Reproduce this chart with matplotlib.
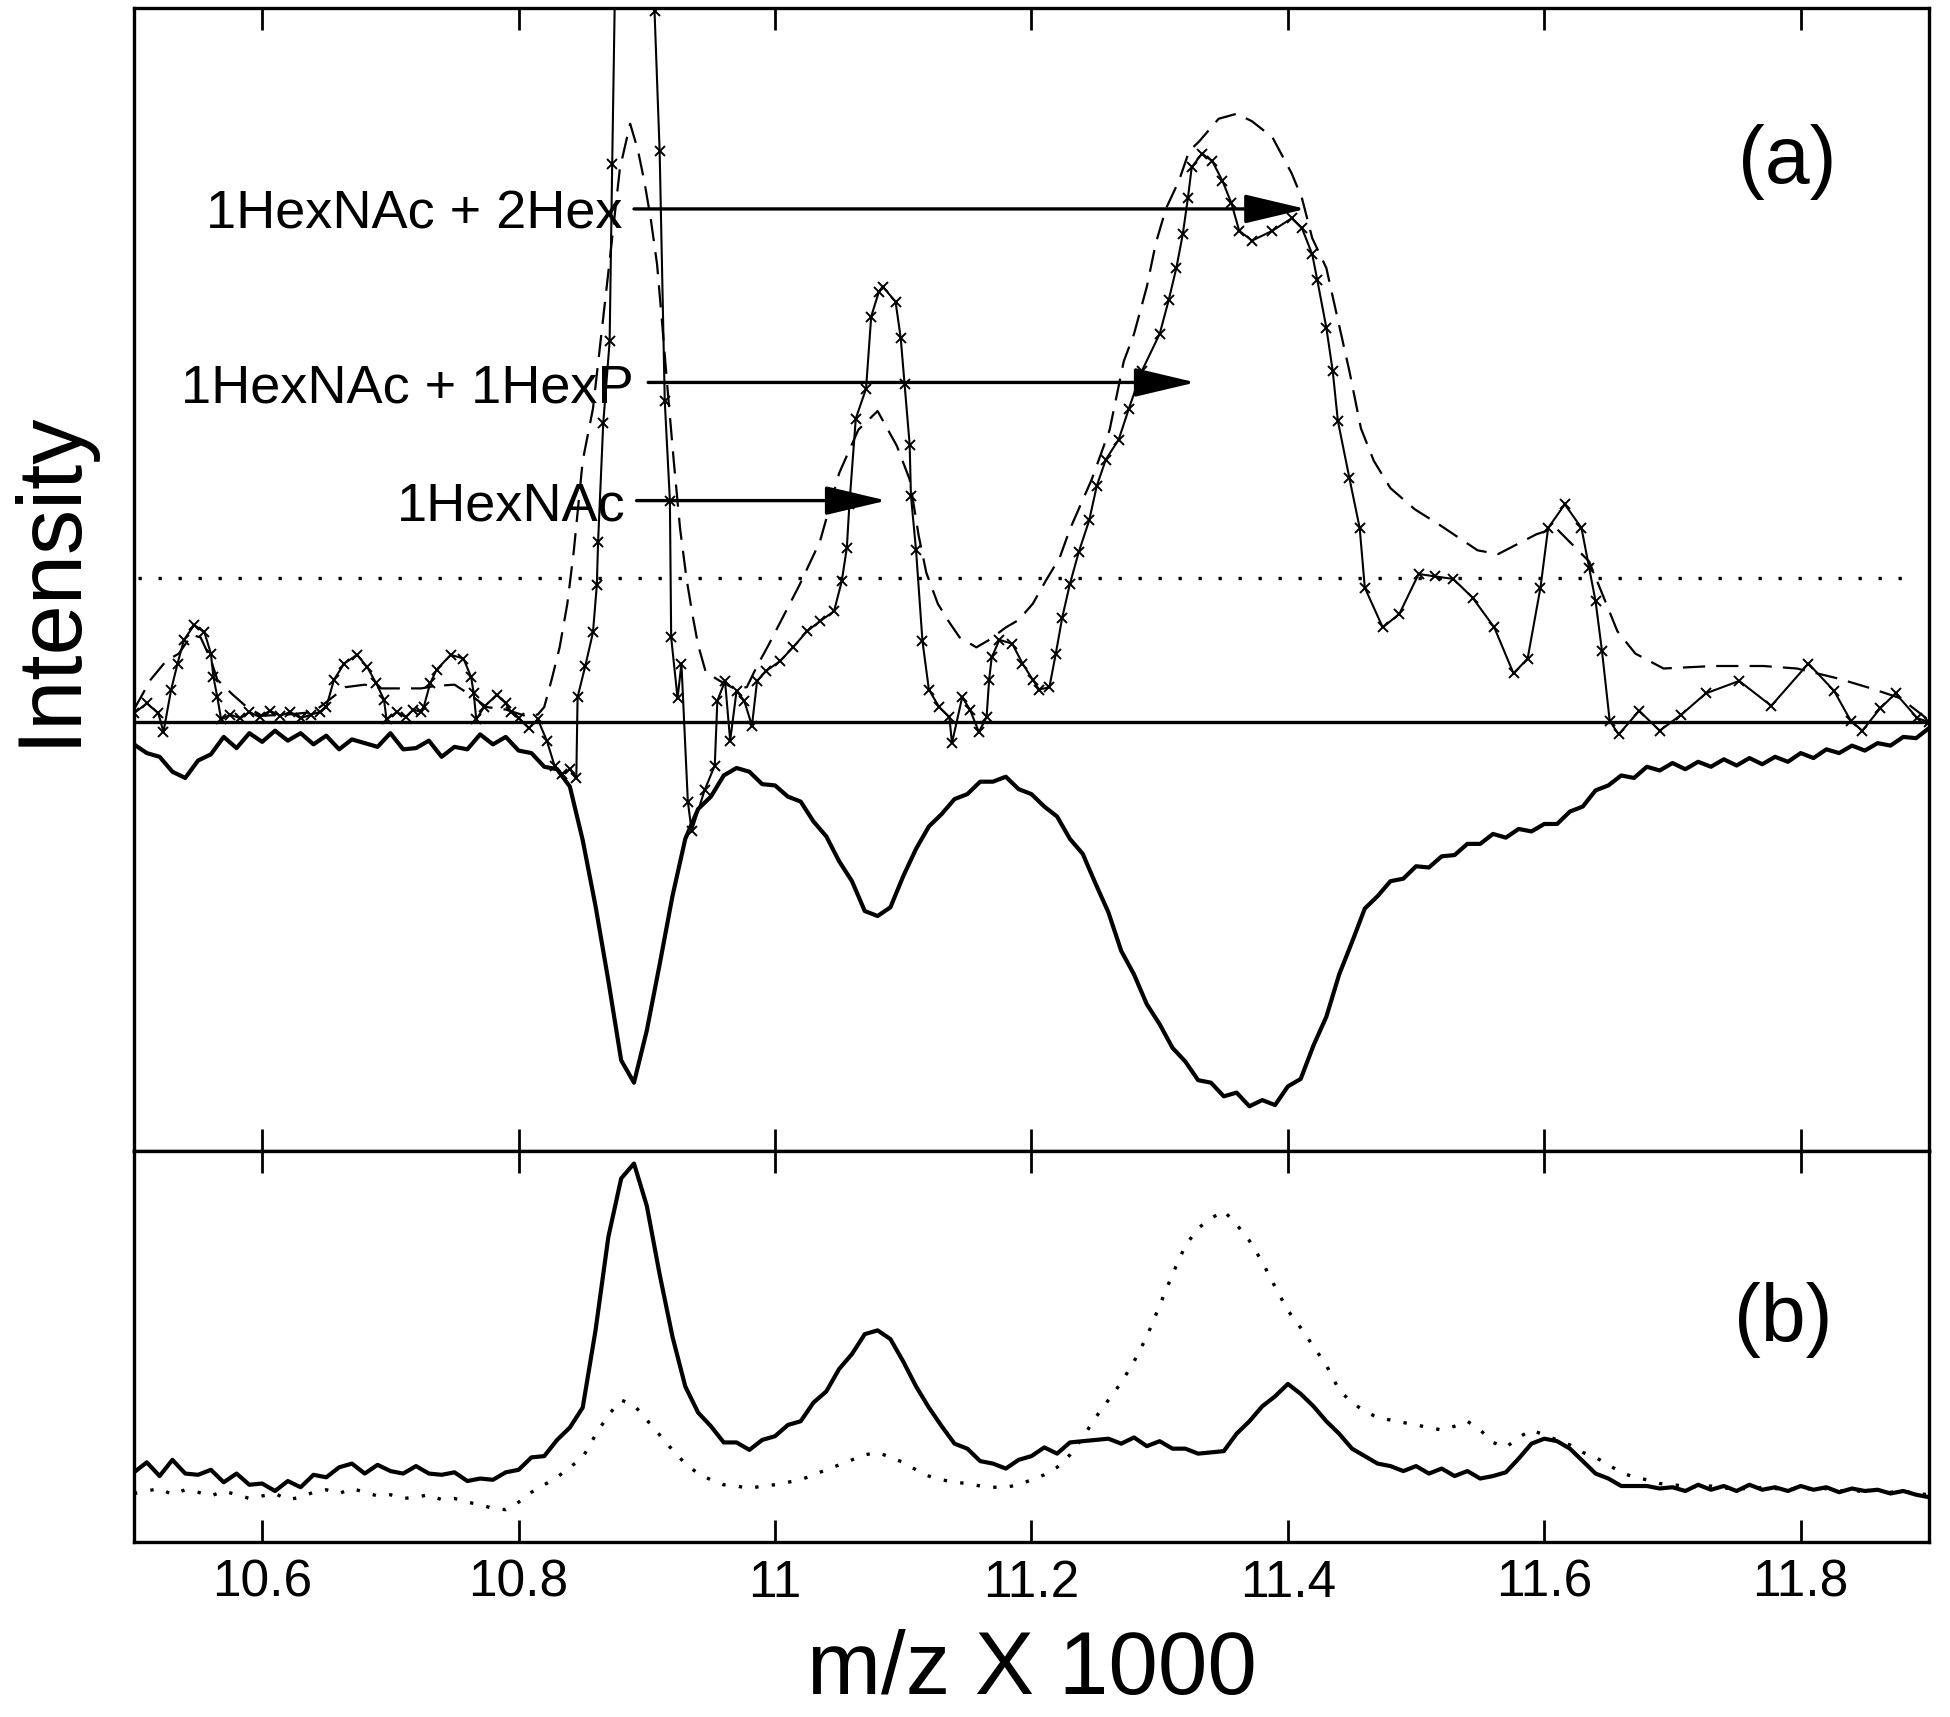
import numpy as np
import matplotlib
matplotlib.use('Agg')
from matplotlib import pyplot as plt

plt.rcParams['font.family'] = ['Liberation Sans', 'DejaVu Sans']

# m/z grid (x 1000) for the densely sampled traces, 10.50 ... 11.90 step 0.01
mz = np.round(np.arange(10.50, 11.905, 0.01), 2)

# (a) lower, inverted trace (thick, noisy)
neg_trace = [
    -0.18, -0.25, -0.28, -0.40, -0.45, -0.31, -0.26, -0.12, -0.21, -0.09,   # 10.50-10.59
    -0.16, -0.07, -0.15, -0.09, -0.18, -0.11, -0.22, -0.14, -0.17, -0.20,   # 10.60-10.69
    -0.09, -0.22, -0.21, -0.15, -0.28, -0.20, -0.22, -0.10, -0.18, -0.12,   # 10.70-10.79
    -0.23, -0.25, -0.36, -0.38, -0.52, -0.95, -1.48, -2.08, -2.72, -2.90,   # 10.80-10.89
    -2.48, -1.95, -1.40, -0.94, -0.70, -0.60, -0.43, -0.37, -0.40, -0.50,   # 10.90-10.99
    -0.51, -0.60, -0.64, -0.80, -0.92, -1.12, -1.28, -1.52, -1.56, -1.49,   # 11.00-11.09
    -1.24, -1.02, -0.84, -0.74, -0.62, -0.58, -0.48, -0.48, -0.44, -0.54,   # 11.10-11.19
    -0.58, -0.68, -0.76, -0.94, -1.06, -1.30, -1.53, -1.84, -2.03, -2.27,   # 11.20-11.29
    -2.43, -2.62, -2.73, -2.88, -2.90, -3.01, -2.98, -3.09, -3.04, -3.08,   # 11.30-11.39
    -2.93, -2.87, -2.60, -2.37, -2.03, -1.77, -1.50, -1.40, -1.28, -1.26,   # 11.40-11.49
    -1.16, -1.17, -1.08, -1.07, -0.98, -0.98, -0.90, -0.93, -0.86, -0.88,   # 11.50-11.59
    -0.82, -0.82, -0.72, -0.68, -0.55, -0.51, -0.43, -0.45, -0.36, -0.39,   # 11.60-11.69
    -0.33, -0.38, -0.32, -0.36, -0.30, -0.35, -0.29, -0.34, -0.28, -0.32,   # 11.70-11.79
    -0.25, -0.29, -0.22, -0.25, -0.19, -0.23, -0.17, -0.19, -0.12, -0.13,   # 11.80-11.89
    -0.05]                                                                  # 11.90

# (a) solid trace with x markers
xmark_mz = [
    10.500, 10.510, 10.519, 10.523, 10.529, 10.534, 10.539, 10.547, 10.555, 10.560,
    10.562, 10.565, 10.568, 10.575, 10.583, 10.590, 10.598, 10.606, 10.614, 10.622,
    10.630, 10.638, 10.645, 10.650, 10.656, 10.664, 10.674, 10.682, 10.689, 10.695,
    10.697, 10.705, 10.712, 10.718, 10.724, 10.726, 10.731, 10.736, 10.747, 10.757,
    10.763, 10.765, 10.767, 10.773, 10.783, 10.790, 10.794, 10.800, 10.808, 10.815,
    10.822, 10.828, 10.834, 10.840, 10.845, 10.846, 10.852, 10.858, 10.861, 10.862,
    10.866, 10.871, 10.873, 10.875, 10.892, 10.906, 10.910, 10.914, 10.918, 10.919,
    10.924, 10.927, 10.932, 10.935, 10.945, 10.953, 10.955, 10.961, 10.965, 10.970,
    10.976, 10.982, 10.986, 10.993, 11.004, 11.014, 11.025, 11.035, 11.046, 11.052,
    11.056, 11.058, 11.063, 11.071, 11.075, 11.081, 11.084, 11.094, 11.098, 11.101,
    11.105, 11.106, 11.110, 11.115, 11.120, 11.128, 11.136, 11.138, 11.146, 11.152,
    11.159, 11.165, 11.167, 11.169, 11.175, 11.185, 11.193, 11.201, 11.206, 11.214,
    11.219, 11.224, 11.230, 11.237, 11.245, 11.251, 11.258, 11.268, 11.276, 11.286,
    11.300, 11.307, 11.313, 11.318, 11.322, 11.325, 11.333, 11.341, 11.349, 11.356,
    11.362, 11.372, 11.388, 11.403, 11.411, 11.419, 11.423, 11.430, 11.435, 11.439,
    11.448, 11.456, 11.460, 11.474, 11.487, 11.502, 11.515, 11.529, 11.544, 11.561,
    11.576, 11.587, 11.597, 11.603, 11.616, 11.629, 11.635, 11.640, 11.645, 11.651,
    11.658, 11.674, 11.690, 11.707, 11.726, 11.752, 11.777, 11.806, 11.826, 11.839,
    11.848, 11.862, 11.874, 11.891, 11.900]
xmark_int = [
    0.07, 0.15, 0.07, -0.08, 0.26, 0.47, 0.66, 0.78, 0.72, 0.55,
    0.36, 0.20, 0.02, 0.06, 0.03, 0.08, 0.04, 0.09, 0.05, 0.08,
    0.03, 0.06, 0.08, 0.12, 0.34, 0.47, 0.54, 0.44, 0.31, 0.18,
    0.02, 0.08, 0.04, 0.10, 0.08, 0.12, 0.31, 0.42, 0.54, 0.51,
    0.36, 0.23, 0.02, 0.12, 0.22, 0.15, 0.08, 0.03, -0.05, 0.02,
    -0.15, -0.35, -0.42, -0.38, -0.45, 0.20, 0.45, 0.72, 1.10, 1.45,
    2.40, 3.06, 4.49, 5.80, 7.50, 5.72, 4.59, 2.58, 1.78, 0.68,
    0.19, 0.47, -0.64, -0.88, -0.55, -0.35, 0.17, 0.33, -0.15, 0.25,
    0.17, -0.03, 0.33, 0.41, 0.49, 0.60, 0.73, 0.81, 0.89, 1.13,
    1.40, 1.75, 2.44, 2.68, 3.26, 3.46, 3.50, 3.38, 3.09, 2.72,
    2.23, 1.82, 1.38, 0.65, 0.26, 0.12, 0.04, -0.17, 0.20, 0.10,
    -0.08, 0.04, 0.34, 0.52, 0.66, 0.63, 0.47, 0.34, 0.26, 0.28,
    0.55, 0.84, 1.11, 1.37, 1.62, 1.90, 2.11, 2.27, 2.52, 2.82,
    3.12, 3.39, 3.65, 3.92, 4.21, 4.46, 4.57, 4.51, 4.35, 4.17,
    3.95, 3.87, 3.95, 4.05, 3.97, 3.76, 3.55, 3.17, 2.82, 2.42,
    1.96, 1.56, 1.08, 0.76, 0.87, 1.19, 1.17, 1.15, 1.00, 0.76,
    0.39, 0.51, 1.08, 1.56, 1.75, 1.56, 1.24, 0.97, 0.57, 0.01,
    -0.10, 0.09, -0.07, 0.06, 0.23, 0.33, 0.13, 0.47, 0.25, 0.01,
    -0.07, 0.11, 0.23, 0.03, 0.00]

# (a) dashed trace
dash_mz = [
    10.500, 10.513, 10.525, 10.535, 10.545, 10.552, 10.560, 10.565, 10.577, 10.588,
    10.600, 10.620, 10.640, 10.655, 10.665, 10.680, 10.693, 10.710, 10.724, 10.735,
    10.750, 10.762, 10.775, 10.790, 10.805, 10.815, 10.820, 10.826, 10.832, 10.838,
    10.843, 10.850, 10.858, 10.866, 10.872, 10.879, 10.887, 10.893, 10.898, 10.903,
    10.908, 10.912, 10.916, 10.921, 10.926, 10.931, 10.936, 10.940, 10.946, 10.957,
    10.968, 10.978, 10.986, 10.995, 11.004, 11.019, 11.035, 11.050, 11.065, 11.080,
    11.095, 11.105, 11.112, 11.118, 11.127, 11.136, 11.144, 11.157, 11.167, 11.180,
    11.190, 11.201, 11.212, 11.222, 11.230, 11.247, 11.261, 11.272, 11.280, 11.290,
    11.297, 11.305, 11.315, 11.323, 11.331, 11.346, 11.360, 11.372, 11.388, 11.403,
    11.411, 11.419, 11.430, 11.438, 11.448, 11.457, 11.467, 11.480, 11.499, 11.519,
    11.548, 11.564, 11.594, 11.609, 11.635, 11.657, 11.671, 11.693, 11.732, 11.771,
    11.797, 11.829, 11.855, 11.878, 11.898]
dash_int = [
    0.10, 0.34, 0.49, 0.55, 0.70, 0.68, 0.50, 0.34, 0.22, 0.12,
    0.05, 0.06, 0.08, 0.20, 0.28, 0.30, 0.27, 0.27, 0.27, 0.29,
    0.30, 0.22, 0.12, 0.10, 0.05, 0.06, 0.12, 0.35, 0.60, 0.95,
    1.37, 2.10, 2.52, 3.25, 3.80, 4.45, 4.81, 4.60, 4.35, 4.05,
    3.68, 3.20, 2.70, 2.10, 1.55, 1.15, 0.84, 0.62, 0.40, 0.33,
    0.27, 0.28, 0.45, 0.62, 0.80, 1.10, 1.45, 2.00, 2.35, 2.50,
    2.22, 1.95, 1.50, 1.20, 0.95, 0.80, 0.68, 0.60, 0.66, 0.76,
    0.82, 0.95, 1.15, 1.32, 1.55, 1.95, 2.35, 2.90, 3.12, 3.50,
    3.85, 4.13, 4.35, 4.59, 4.67, 4.85, 4.89, 4.83, 4.70, 4.41,
    4.21, 3.89, 3.65, 3.28, 2.82, 2.36, 2.10, 1.88, 1.71, 1.58,
    1.38, 1.35, 1.51, 1.56, 1.29, 0.73, 0.55, 0.43, 0.45, 0.45,
    0.43, 0.35, 0.27, 0.19, 0.03]

dotted_level = 1.16

# glycoform labels: text, arrow start, arrow tip, height
glyco_labels = ['1HexNAc + 2Hex', '1HexNAc + 1HexP', '1HexNAc']
glyco_text_x = [10.881, 10.890, 10.883]
glyco_start = [10.890, 10.901, 10.892]
glyco_tip = [11.414, 11.328, 11.087]
glyco_y = [4.125, 2.73, 1.78]

# (b) solid trace
b_solid = [
    0.56, 0.64, 0.53, 0.66, 0.55, 0.54, 0.58, 0.48, 0.55, 0.46,   # 10.50
    0.47, 0.41, 0.49, 0.44, 0.54, 0.52, 0.60, 0.63, 0.55, 0.62,   # 10.60
    0.57, 0.55, 0.61, 0.55, 0.54, 0.56, 0.49, 0.51, 0.50, 0.56,   # 10.70
    0.58, 0.68, 0.69, 0.82, 0.92, 1.08, 1.70, 2.45, 2.92, 3.04,   # 10.80
    2.70, 2.15, 1.65, 1.25, 1.04, 0.93, 0.80, 0.80, 0.74, 0.82,   # 10.90
    0.85, 0.94, 0.97, 1.12, 1.21, 1.39, 1.51, 1.67, 1.70, 1.63,   # 11.00
    1.45, 1.25, 1.08, 0.93, 0.79, 0.75, 0.65, 0.63, 0.59, 0.66,   # 11.10
    0.69, 0.76, 0.71, 0.80, 0.81, 0.82, 0.83, 0.79, 0.84, 0.77,   # 11.20
    0.81, 0.75, 0.75, 0.71, 0.72, 0.73, 0.87, 0.97, 1.09, 1.17,   # 11.30
    1.27, 1.19, 1.09, 0.97, 0.87, 0.75, 0.69, 0.63, 0.61, 0.57,   # 11.40
    0.61, 0.55, 0.59, 0.53, 0.57, 0.51, 0.53, 0.56, 0.67, 0.79,   # 11.50
    0.83, 0.81, 0.75, 0.65, 0.55, 0.51, 0.45, 0.45, 0.45, 0.43,   # 11.60
    0.44, 0.41, 0.46, 0.42, 0.45, 0.41, 0.46, 0.42, 0.44, 0.41,   # 11.70
    0.45, 0.42, 0.44, 0.40, 0.43, 0.41, 0.42, 0.39, 0.41, 0.38,   # 11.80
    0.36]

# (b) dotted trace
b_dotted = [
    0.39, 0.41, 0.43, 0.38, 0.42, 0.40, 0.37, 0.41, 0.38, 0.35,   # 10.50
    0.37, 0.39, 0.34, 0.36, 0.40, 0.42, 0.39, 0.43, 0.40, 0.37,   # 10.60
    0.38, 0.35, 0.36, 0.38, 0.34, 0.35, 0.32, 0.30, 0.27, 0.26,   # 10.70
    0.32, 0.40, 0.46, 0.52, 0.60, 0.68, 0.86, 1.02, 1.14, 1.10,   # 10.80
    0.98, 0.86, 0.74, 0.63, 0.55, 0.50, 0.46, 0.45, 0.43, 0.45,   # 10.90
    0.46, 0.48, 0.50, 0.54, 0.58, 0.62, 0.66, 0.70, 0.72, 0.68,   # 11.00
    0.64, 0.58, 0.53, 0.50, 0.48, 0.47, 0.45, 0.44, 0.44, 0.46,   # 11.10
    0.50, 0.54, 0.60, 0.70, 0.84, 1.00, 1.14, 1.28, 1.45, 1.65,   # 11.20
    1.90, 2.15, 2.38, 2.52, 2.60, 2.66, 2.55, 2.42, 2.25, 2.05,   # 11.30
    1.86, 1.72, 1.57, 1.42, 1.22, 1.12, 1.05, 1.00, 0.98, 0.96,   # 11.40
    0.94, 0.92, 0.90, 0.93, 0.97, 0.90, 0.80, 0.76, 0.84, 0.90,   # 11.50
    0.86, 0.82, 0.78, 0.72, 0.68, 0.62, 0.56, 0.52, 0.50, 0.47,   # 11.60
    0.46, 0.45, 0.44, 0.45, 0.43, 0.44, 0.42, 0.44, 0.43, 0.42,   # 11.70
    0.44, 0.42, 0.43, 0.41, 0.42, 0.40, 0.42, 0.40, 0.41, 0.39,   # 11.80
    0.38]

tick_pos = [10.6, 10.8, 11.0, 11.2, 11.4, 11.6, 11.8]
tick_lbl = ['10.6', '10.8', '11', '11.2', '11.4', '11.6', '11.8']

fig = plt.figure(figsize=(19.5, 17.17), dpi=100)
axA = fig.add_axes([0.0687, 0.3296, 0.9205, 0.6657])
axB = fig.add_axes([0.0687, 0.1019, 0.9205, 0.2277])

# ---- panel (a)
axA.axhline(0, color='k', lw=2.4, zorder=2)
axA.axhline(dotted_level, xmin=0.002, xmax=0.99, color='k', lw=2.4, ls=(0, (1, 5)))
axA.plot(mz, neg_trace, color='k', lw=3.0, zorder=3)
axA.plot(dash_mz, dash_int, color='k', lw=1.6, ls=(0, (10, 5)), zorder=3)
axA.plot(xmark_mz, xmark_int, color='k', lw=1.5, marker='x', ms=7, mew=1.4, zorder=4)

for lbl, tx, x0, x1, yy in zip(glyco_labels, glyco_text_x, glyco_start, glyco_tip, glyco_y):
    axA.text(tx, yy - 0.16, lbl, ha='right', va='baseline', fontsize=39)
    axA.annotate('', xy=(x1, yy), xytext=(x0, yy),
                 arrowprops=dict(arrowstyle='-|>,head_length=1.9,head_width=0.45',
                                 mutation_scale=20, lw=2.4, color='k',
                                 shrinkA=0, shrinkB=0), zorder=5)

axA.text(0.921, 0.865, '(a)', transform=axA.transAxes, ha='center', va='center', fontsize=58)
axA.set_ylim(-3.45, 5.74)

# ---- panel (b)
axB.plot(mz, b_dotted, color='k', lw=2.4, ls=(0, (1, 4)))
axB.plot(mz, b_solid, color='k', lw=3.0)
axB.text(0.919, 0.568, '(b)', transform=axB.transAxes, ha='center', va='center', fontsize=58)
axB.set_ylim(0, 3.14)

for ax in (axA, axB):
    ax.set_xlim(10.5, 11.9)
    ax.set_xticks(tick_pos)
    ax.set_yticks([])
    ax.tick_params(axis='x', direction='in', top=True, bottom=True, length=16, width=2)
    for s in ax.spines.values():
        s.set_linewidth(2.4)

axA.tick_params(labelbottom=False)
axB.set_xticklabels(tick_lbl)
axB.tick_params(axis='x', labelsize=37, pad=12)

fig.text(0.5290, 0.0268, 'm/z X 1000', ha='center', va='center', fontsize=64)
fig.text(0.0256, 0.6634, 'Intensity', rotation=90, ha='center', va='center', fontsize=65)

fig.savefig('out.png', dpi=100)
